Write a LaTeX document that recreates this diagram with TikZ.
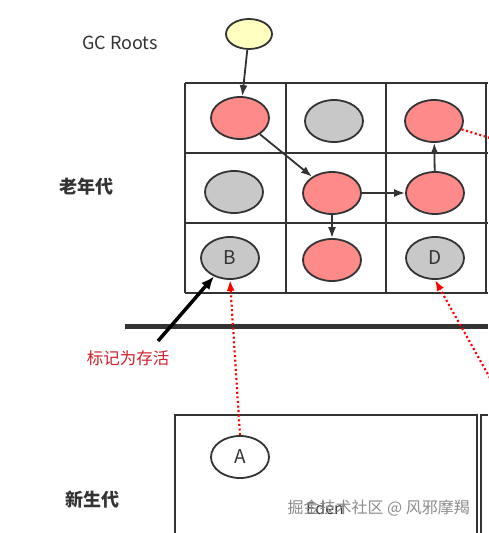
\documentclass[tikz,border=0pt]{standalone}
\usepackage{fontspec}
\setmainfont{Noto Sans CJK SC}
\usetikzlibrary{shapes.geometric,arrows.meta}
\definecolor{pinkfill}{HTML}{FF8A8A}
\definecolor{grayfill}{HTML}{C8C8C8}
\definecolor{rootfill}{HTML}{FFFFC0}
\definecolor{linecol}{HTML}{333333}
\definecolor{redtext}{HTML}{D0202A}
\tikzset{
  obj/.style={ellipse,draw=linecol,line width=1.8pt,minimum width=58pt,minimum height=42pt,inner sep=0pt,font=\fontsize{19}{19}\selectfont,text=linecol},
  live/.style={obj,fill=pinkfill},
  dead/.style={obj,fill=grayfill},
  gridline/.style={draw=linecol,line width=2pt},
  ref/.style={draw=linecol,line width=1.8pt,-{Latex[length=11pt,width=8pt]}},
  redref/.style={draw=red,line width=2.2pt,dash pattern=on 2pt off 2.6pt,-{Latex[length=11pt,width=8pt]}},
  label/.style={font=\bfseries\fontsize{18}{18}\selectfont,text=linecol},
}
\begin{document}
\begin{tikzpicture}[x=1pt,y=-1pt]
\useasboundingbox (0,0) rectangle (488,533);
% grid
\foreach \yy in {83,153,223,293} \draw[gridline] (185,\yy) -- (488,\yy);
\foreach \xx in {185,286,386,486} \draw[gridline] (\xx,83) -- (\xx,293);
% separator
\draw[draw=linecol,line width=5pt] (125,326) -- (488,326);
% young gen boxes
\draw[gridline] (175,533) -- (175,415) -- (477,415) -- (477,533);
\draw[gridline] (481,533) -- (481,415) -- (488,415);
% texts
\node[font=\fontsize{18}{18}\selectfont,text=linecol] (gc) at (120,43) {GC Roots};
\node[label] (old) at (86,187) {老年代};
\node[label] (young) at (92,500) {新生代};
\node[font=\fontsize{16.5}{16.5}\selectfont,text=redtext] (mark) at (128,358) {标记为存活};
% root
\node[ellipse,draw=linecol,line width=1.8pt,fill=rootfill,minimum width=46pt,minimum height=30pt,inner sep=0pt] (root) at (249,34) {};
% objects
\node[live] (n11) at (240,118) {};
\node[dead] (n12) at (334,121) {};
\node[live] (n13) at (434,121) {};
\node[dead] (n21) at (234,192) {};
\node[live] (n22) at (332,193) {};
\node[live] (n23) at (435,193) {};
\node[dead] (B) at (230,258) {B};
\node[live] (n32) at (332,260) {};
\node[dead] (D) at (435,258) {D};
\node[obj,fill=white] (A) at (240,457) {A};
% eden + watermark
\node[font=\fontsize{16}{16}\selectfont,text=linecol] (eden) at (325,508) {Eden};
\node[font=\fontsize{16}{16}\selectfont,text=gray!90,anchor=west] (wm) at (284,508) {掘金技术社区 @ 风邪摩羯};
% references
\draw[ref] (root) -- (n11);
\draw[ref] (n11) -- (n22);
\draw[ref] (n22) -- (n23);
\draw[ref] (n23) -- (n13);
\draw[ref] (n22) -- (n32);
% mark arrow
\coordinate (mk) at (158,341);
\draw[draw=black,line width=3.5pt,-{Latex[length=13pt,width=11pt]}] (mk) -- (B);
% red dotted references
\coordinate (rin) at (490,378);
\coordinate (rout) at (490,138);
\draw[redref] (A.north) -- (B.south);
\draw[redref] (rin) -- (D.south);
\draw[draw=red,line width=2.2pt,dash pattern=on 2pt off 2.6pt] (n13) -- (rout);
\end{tikzpicture}
\end{document}
